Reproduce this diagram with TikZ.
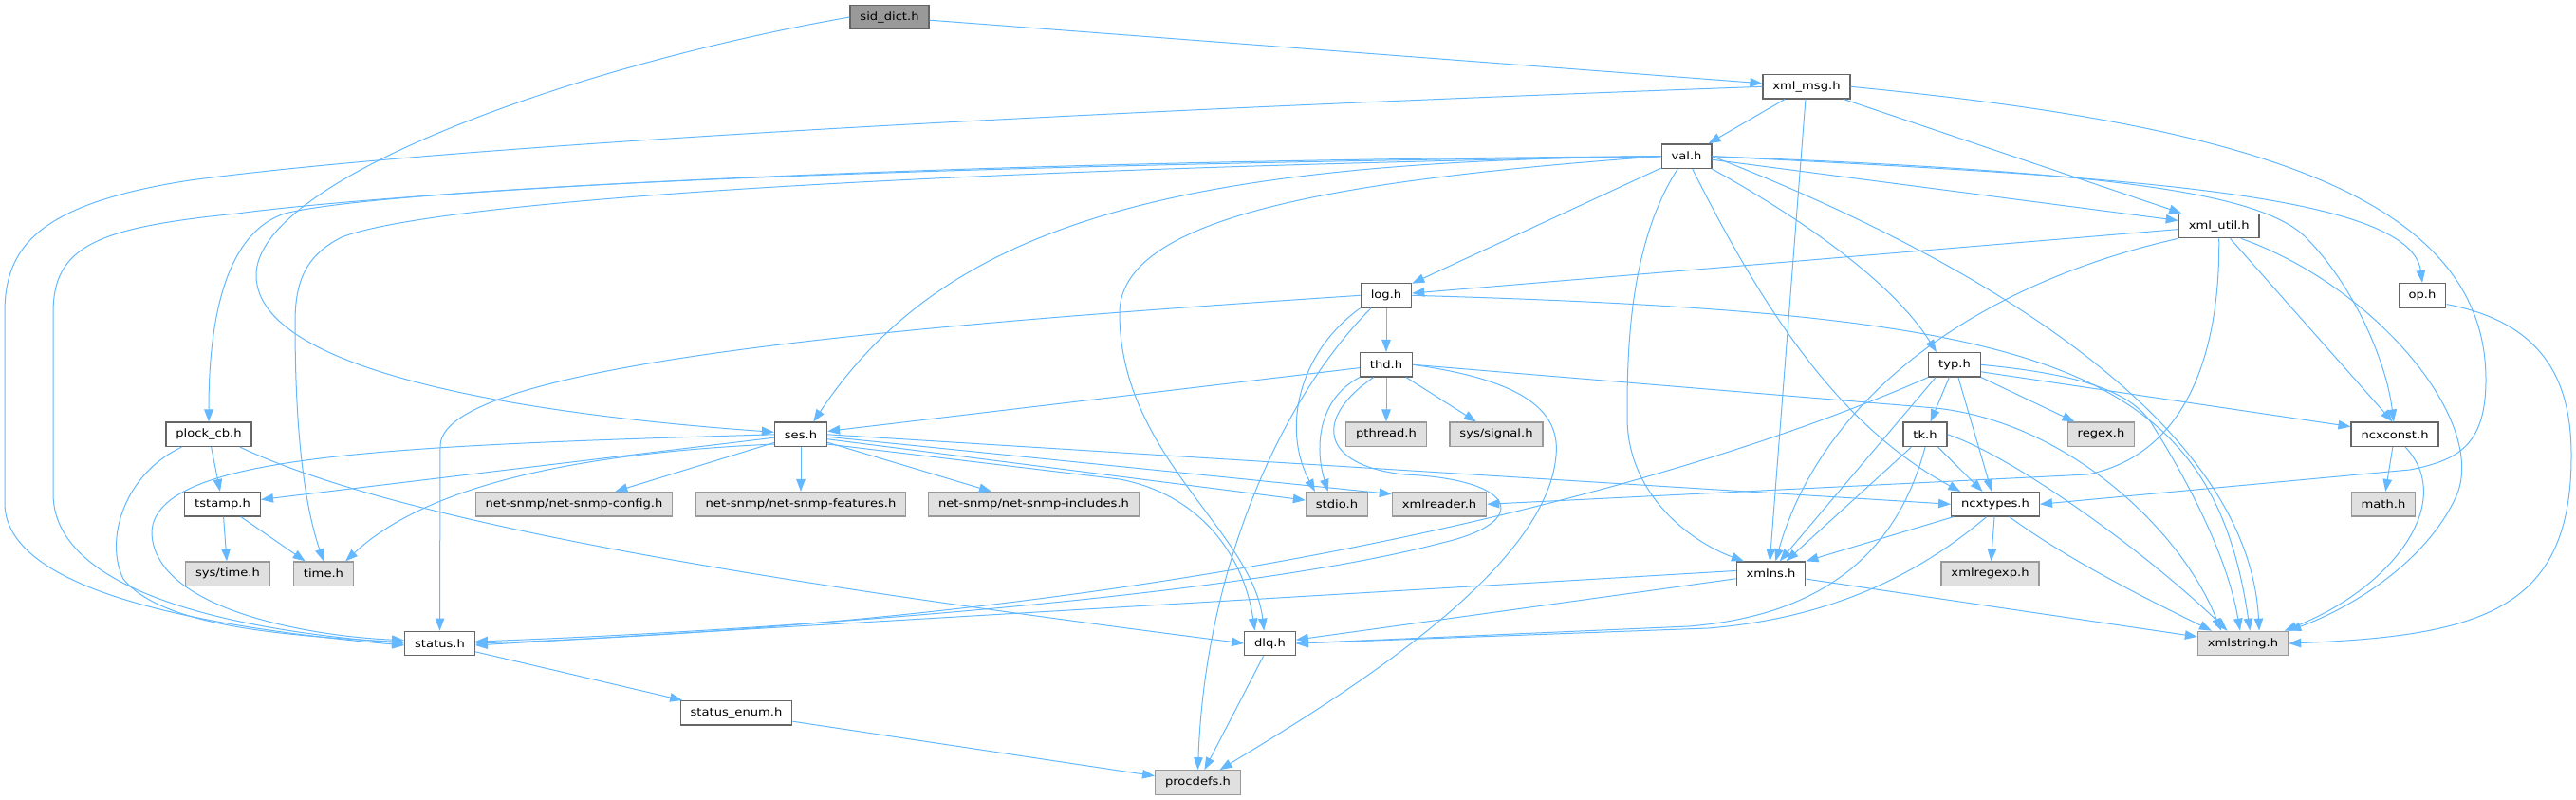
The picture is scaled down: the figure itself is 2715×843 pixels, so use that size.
\documentclass[tikz,border=0pt]{standalone}
\usepackage{fontspec}
\setmainfont{DejaVu Sans}[FakeStretch=1.14]
\usetikzlibrary{arrows.meta}
\definecolor{edgeblue}{HTML}{63B8FF}
\definecolor{boxline}{HTML}{666666}
\definecolor{extfill}{HTML}{E0E0E0}
\definecolor{extline}{HTML}{999999}
\tikzstyle{hdr} = [draw=boxline, fill=white, line width=1.3pt, minimum height=25.4pt, inner xsep=10.4pt, inner ysep=0pt, font=\fontsize{11.5}{13}\selectfont]
\tikzstyle{exthdr} = [hdr, draw=extline, fill=extfill]
\tikzstyle{mainhdr} = [hdr, fill=extline]
\tikzstyle{inc} = [draw=edgeblue, line width=1pt, -{Triangle[length=13pt,width=9.5pt]}]

\begin{document}
\begin{tikzpicture}[x=1pt,y=-1pt]
\useasboundingbox (0,0) rectangle (2715,843);

\node[mainhdr] (sid) at (937.5,18) {sid\_dict.h};
\node[hdr] (xmlmsg) at (1904,91.3) {xml\_msg.h};
\node[hdr] (val) at (1777.5,164.7) {val.h};
\node[hdr] (xmlutil) at (2338.7,238) {xml\_util.h};
\node[hdr] (log) at (1461,311.3) {log.h};
\node[hdr] (op) at (2553,311.3) {op.h};
\node[hdr] (thd) at (1461,384.3) {thd.h};
\node[hdr] (typ) at (2060,384.3) {typ.h};
\node[hdr] (plock) at (220,457.8) {plock\_cb.h};
\node[hdr] (ses) at (844,457.8) {ses.h};
\node[exthdr] (pthread) at (1461,457.8) {pthread.h};
\node[exthdr] (signal) at (1577,457.8) {sys/signal.h};
\node[hdr] (tk) at (2029,457.8) {tk.h};
\node[exthdr] (regex) at (2214.5,457.8) {regex.h};
\node[hdr] (ncxconst) at (2524,457.8) {ncxconst.h};
\node[hdr] (tstamp) at (234.6,531.3) {tstamp.h};
\node[exthdr] (snmpcfg) at (605,531.3) {net-snmp/net-snmp-config.h};
\node[exthdr] (snmpfeat) at (844,531.3) {net-snmp/net-snmp-features.h};
\node[exthdr] (snmpinc) at (1089.5,531.3) {net-snmp/net-snmp-includes.h};
\node[exthdr] (stdio) at (1409,531.3) {stdio.h};
\node[exthdr] (xmlreader) at (1517,531.3) {xmlreader.h};
\node[hdr] (ncxtypes) at (2103,531.3) {ncxtypes.h};
\node[exthdr] (math) at (2512,531.3) {math.h};
\node[exthdr] (systime) at (240,604.7) {sys/time.h};
\node[exthdr] (time) at (341,604.7) {time.h};
\node[hdr] (xmlns) at (1866.5,604.7) {xmlns.h};
\node[exthdr] (xmlregexp) at (2097.5,604.7) {xmlregexp.h};
\node[hdr] (status) at (463.5,678) {status.h};
\node[hdr] (dlq) at (1338.5,678) {dlq.h};
\node[exthdr] (xmlstring) at (2364,678) {xmlstring.h};
\node[hdr] (statusenum) at (776,751.3) {status\_enum.h};
\node[exthdr] (procdefs) at (1262.5,824.5) {procdefs.h};

\draw[inc] (sid) -- (xmlmsg);
\draw[inc] (sid.west) .. controls (600,70) and (270,190) .. (270,290) .. controls (270,400) and (600,440) .. (ses.175);

\draw[inc] (xmlmsg) -- (val);
\draw[inc] (xmlmsg.west) .. controls (1200,115) and (500,150) .. (200,190) .. controls (40,215) and (5,260) .. (5,330) -- (5,530) .. controls (5,620) and (200,660) .. (status.183);
\draw[inc] (xmlmsg) -- (xmlns.95);
\draw[inc] (xmlmsg) -- (xmlutil);
\draw[inc] (xmlmsg.east) .. controls (2350,130) and (2620,200) .. (2620,400) .. controls (2620,470) and (2590,485) .. (2540,495) -- (ncxtypes.east);

\draw[inc] (val) -- (log);
\draw[inc] (val) -- (xmlutil);
\draw[inc] (val.east) .. controls (2200,185) and (2540,200) .. (op.north);
\draw[inc] (val.east) .. controls (2200,180) and (2380,200) .. (2430,250) .. controls (2480,300) and (2515,380) .. (ncxconst.95);
\draw[inc] (val.south east) .. controls (1880,220) and (1990,290) .. (typ.145);
\draw[inc] (val.east) .. controls (2100,280) and (2370,450) .. (xmlstring.38);
\draw[inc] (val.295) .. controls (1860,330) and (1940,450) .. (ncxtypes.160);
\draw[inc] (val.235) .. controls (1715,260) and (1715,380) .. (1715,440) .. controls (1715,520) and (1780,570) .. (xmlns.155);
\draw[inc] (val.west) .. controls (1250,170) and (1000,230) .. (ses.45);
\draw[inc] (val.west) .. controls (1400,190) and (1180,230) .. (1180,330) .. controls (1180,480) and (1320,560) .. (dlq.115);
\draw[inc] (val.west) .. controls (900,175) and (400,200) .. (300,225) .. controls (240,245) and (220,330) .. (plock.north);
\draw[inc] (val.west) .. controls (900,180) and (450,215) .. (360,250) .. controls (320,270) and (311,300) .. (311,340) .. controls (311,450) and (320,530) .. (time.north);
\draw[inc] (val.west) .. controls (900,170) and (400,205) .. (250,225) .. controls (100,240) and (56,260) .. (56,330) -- (56,520) .. controls (56,610) and (200,660) .. (status.west);

\draw[inc] (xmlutil) -- (log);
\draw[inc] (xmlutil.south west) .. controls (2080,300) and (1920,420) .. (xmlns.70);
\draw[inc] (xmlutil.south) .. controls (2340,380) and (2300,480) .. (2200,500) -- (xmlreader.east);
\draw[inc] (xmlutil) -- (ncxconst.100);
\draw[inc] (xmlutil.330) .. controls (2500,300) and (2620,440) .. (2590,520) .. controls (2560,590) and (2480,640) .. (xmlstring.north east);

\draw[inc] (op.340) .. controls (2680,340) and (2710,400) .. (2710,480) .. controls (2710,640) and (2620,670) .. (xmlstring.east);

\draw[inc] (log.west) .. controls (1000,340) and (464,380) .. (464,470) -- (status.north);
\draw[inc] (log) -- (thd);
\draw[inc] (log.south west) .. controls (1370,370) and (1350,450) .. (stdio.150);
\draw[inc] (log.220) .. controls (1350,420) and (1270,600) .. (procdefs.north);
\draw[inc] (log.east) .. controls (2150,330) and (2330,380) .. (xmlstring.61);

\draw[inc] (thd) -- (ses);
\draw[inc] (thd.south west) .. controls (1390,420) and (1385,470) .. (stdio.125);
\draw[inc] (thd) -- (pthread);
\draw[inc] (thd) -- (signal);
\draw[inc] (thd.225) .. controls (1385,440) and (1390,490) .. (1480,500) .. controls (1600,505) and (1615,550) .. (1520,572) .. controls (1300,630) and (800,665) .. (status.3);
\draw[inc] (thd.east) .. controls (1600,400) and (1645,430) .. (1640,480) .. controls (1630,600) and (1420,730) .. (procdefs.30);
\draw[inc] (thd.east) -- (2040,430) .. controls (2180,445) and (2300,560) .. (xmlstring.150);

\draw[inc] (typ) -- (tk);
\draw[inc] (typ) -- (ncxtypes);
\draw[inc] (typ) -- (regex);
\draw[inc] (typ.345) -- (ncxconst.170);
\draw[inc] (typ.east) .. controls (2200,395) and (2250,415) .. (2270,450) .. controls (2320,530) and (2350,600) .. (xmlstring.103);
\draw[inc] ([xshift=8pt]typ.south west) -- (xmlns.55);
\draw[inc] (typ.south west) .. controls (1800,500) and (1300,650) .. (status.east);

\draw[inc] (tk) -- (ncxtypes);
\draw[inc] (tk) -- (xmlns.40);
\draw[inc] (tk.south) .. controls (1995,600) and (1900,650) .. (1780,660) -- (dlq.east);
\draw[inc] (tk.east) .. controls (2120,480) and (2260,580) .. (xmlstring.141);

\draw[inc] (ncxconst) -- (math);
\draw[inc] (ncxconst.310) .. controls (2590,530) and (2520,620) .. (xmlstring.17);

\draw[inc] (ncxtypes) -- (xmlns.north east);
\draw[inc] (ncxtypes) -- (xmlregexp);
\draw[inc] (ncxtypes.318) .. controls (2180,590) and (2260,630) .. (xmlstring.158);
\draw[inc] (ncxtypes.235) .. controls (2040,590) and (1950,650) .. (1800,662) -- (dlq.east);

\draw[inc] (xmlns.175) -- (status.357);
\draw[inc] (xmlns) -- (dlq);
\draw[inc] (xmlns) -- (xmlstring);

\draw[inc] (plock) -- (tstamp);
\draw[inc] (plock.205) .. controls (130,500) and (110,570) .. (130,610) .. controls (170,660) and (300,670) .. (status.178);
\draw[inc] (plock.338) .. controls (440,560) and (900,625) .. (dlq.west);

\draw[inc] (ses.west) .. controls (400,470) and (165,480) .. (160,560) .. controls (160,640) and (320,670) .. (status.175);
\draw[inc] (ses) -- (tstamp);
\draw[inc] (ses.200) .. controls (550,480) and (430,530) .. (time.30);
\draw[inc] (ses) -- (snmpcfg);
\draw[inc] (ses) -- (snmpfeat);
\draw[inc] (ses) -- (snmpinc);
\draw[inc] (ses.350) -- (stdio);
\draw[inc] (ses.355) -- (xmlreader.168);
\draw[inc] (ses.east) -- (ncxtypes.west);
\draw[inc] (ses.340) -- (1180,505) .. controls (1260,520) and (1310,580) .. (dlq.140);

\draw[inc] (tstamp) -- (systime);
\draw[inc] (tstamp) -- (time);
\draw[inc] (status) -- (statusenum);
\draw[inc] (statusenum) -- (procdefs);
\draw[inc] (dlq) -- (procdefs);
\end{tikzpicture}
\end{document}
